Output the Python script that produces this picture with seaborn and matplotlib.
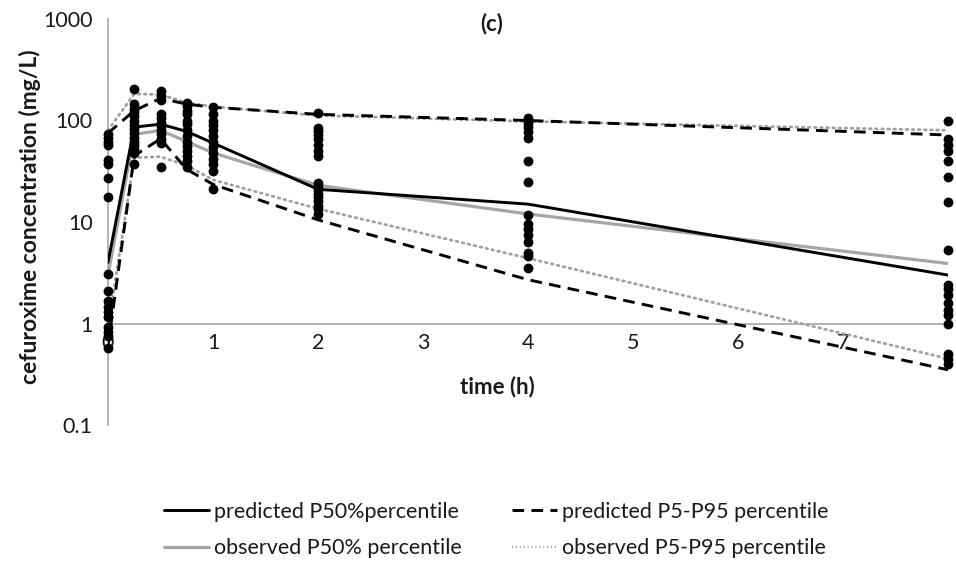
import numpy as np
import pandas as pd
import matplotlib
matplotlib.use("Agg")
import matplotlib.pyplot as plt
import seaborn as sns
from matplotlib.lines import Line2D

# ---------------- data ----------------
times = [0, 0.25, 0.5, 0.75, 1, 2, 4, 8]
pred_p50 = [4.0, 86, 92, 78, 60, 21, 15, 3.0]
obs_p50 = [3.0, 73, 80, 62, 48, 23, 12, 3.9]
pred_p95 = [75, 125, 165, 145, 135, 115, 100, 72]
pred_p5 = [0.6, 45, 66, 33, 23.5, 10.5, 2.7, 0.35]
obs_p95 = [80, 183, 180, 150, 137, 112, 98, 80]
obs_p5 = [0.9, 43, 44, 36, 26, 13.5, 4.4, 0.45]

obs_t0 = [73, 68, 62, 57, 41, 37, 27, 17.5, 3.1, 2.1, 1.65, 1.45, 1.3, 1.17, 0.92, 0.82, 0.76, 0.58]
obs_t025 = [205, 145, 130, 120, 110, 100, 90, 82, 75, 68, 62, 57, 52, 48, 37]
obs_t05 = [195, 175, 160, 115, 105, 95, 88, 80, 73, 66, 60, 35]
obs_t075 = [150, 140, 125, 116, 100, 92, 80, 70, 62, 56, 50, 45, 40, 35]
obs_t1 = [135, 115, 100, 90, 80, 70, 62, 55, 48, 42, 37, 32, 21]
obs_t2 = [118, 85, 78, 72, 65, 58, 50, 45, 24, 22, 20.5, 19, 17.5, 16, 14.5, 13.5, 12]
obs_t4 = [107, 95, 86, 77, 68, 40, 24.6, 11.6, 9.5, 8.5, 7.5, 6.3, 5.0, 4.6, 3.5]
obs_t8 = [100, 65, 57, 50, 40, 27.5, 15.7, 5.3, 2.4, 2.2, 1.9, 1.6, 1.35, 1.2, 1.0, 0.5, 0.45, 0.4]

xtick_labels = ["0", "1", "2", "3", "4", "5", "6", "7", ""]
ytick_vals = [0.1, 1, 10, 100, 1000]
ytick_labels = ["0.1", "1", "10", "100", "1000"]

legend_labels = ["predicted P50%percentile", "observed P50% percentile",
                 "predicted P5-P95 percentile", "observed P5-P95 percentile"]

# ---------------- build tables ----------------
obs_groups = {0: obs_t0, 0.25: obs_t025, 0.5: obs_t05, 0.75: obs_t075,
              1: obs_t1, 2: obs_t2, 4: obs_t4, 8: obs_t8}
pts = pd.DataFrame([(t, c) for t, vals in obs_groups.items() for c in vals],
                   columns=["time", "conc"])
lines = pd.DataFrame({"time": times, "pred_p50": pred_p50, "obs_p50": obs_p50,
                      "pred_p95": pred_p95, "pred_p5": pred_p5,
                      "obs_p95": obs_p95, "obs_p5": obs_p5})

# ---------------- style ----------------
sns.set_style("white")
plt.rcParams["font.family"] = ["Lato", "DejaVu Sans"]

fig = plt.figure(figsize=(9.56, 5.63), dpi=100)
ax = fig.add_axes([108 / 956, 1 - 425 / 563, 840 / 956, 406 / 563])

gray_axis = "#A6A6A6"
gray_line = "#A6A6A6"
dot_gray = "#A0A0A0"
txt = "#1a1a1a"

dotted = (0, (0.6, 1.6))
dashed = (0, (4, 2.5))

sns.lineplot(data=lines, x="time", y="obs_p95", ax=ax, color=dot_gray, lw=2.0,
             linestyle=dotted, dash_capstyle="round", zorder=2)
sns.lineplot(data=lines, x="time", y="obs_p5", ax=ax, color=dot_gray, lw=2.0,
             linestyle=dotted, dash_capstyle="round", zorder=2)
sns.lineplot(data=lines, x="time", y="pred_p95", ax=ax, color="black", lw=2.1,
             linestyle=dashed, zorder=2)
sns.lineplot(data=lines, x="time", y="pred_p5", ax=ax, color="black", lw=2.1,
             linestyle=dashed, zorder=2)
sns.lineplot(data=lines, x="time", y="obs_p50", ax=ax, color=gray_line, lw=2.3, zorder=3)
sns.lineplot(data=lines, x="time", y="pred_p50", ax=ax, color="black", lw=2.1, zorder=3)

sns.scatterplot(data=pts, x="time", y="conc", ax=ax, color="black", s=50,
                edgecolor="black", linewidth=0, zorder=5, clip_on=False)

ax.set_yscale("log")
ax.set_ylim(0.1, 1000)
ax.set_xlim(0, 8)
ax.set_yticks(ytick_vals)
ax.set_yticklabels(ytick_labels)
ax.yaxis.set_minor_locator(matplotlib.ticker.NullLocator())
ax.set_xticks(range(9))
ax.set_xticklabels(xtick_labels)

for s in ["top", "right"]:
    ax.spines[s].set_visible(False)
ax.spines["bottom"].set_position(("data", 1))
for s in ["left", "bottom"]:
    ax.spines[s].set_color(gray_axis)
    ax.spines[s].set_linewidth(1.2)
    ax.spines[s].set_zorder(1)

ax.tick_params(axis="both", which="major", direction="out", length=5,
               width=1.2, color=gray_axis, labelsize=15.5, labelcolor=txt)
ax.tick_params(axis="x", pad=2)
ax.tick_params(axis="y", pad=6)

ax.set_xlabel("time (h)", fontsize=16, fontweight="bold", color=txt)
ax.xaxis.set_label_coords((497 - 108) / 840, (425 - 376) / 406)
ax.xaxis.label.set_va("top")
ax.set_ylabel("cefuroxime concentration (mg/L)", fontsize=16.5, fontweight="bold",
              color=txt, ha="center", va="center")
ax.yaxis.set_label_coords((30 - 108) / 840, (425 - 217) / 406)

ax.text((492 - 108) / 840, (425 - 24) / 406, "(c)", transform=ax.transAxes,
        ha="center", va="center", fontsize=16, fontweight="bold", color=txt)

handles = [
    Line2D([], [], color="black", lw=2.1),
    Line2D([], [], color=gray_line, lw=2.3),
    Line2D([], [], color="black", lw=2.1, linestyle=dashed),
    Line2D([], [], color=dot_gray, lw=1.4, linestyle=(0, (0.6, 1.4))),
]
fig.legend(handles, legend_labels, loc="center", bbox_to_anchor=(0.519, 0.0586),
           ncol=2, frameon=False, fontsize=15.5, handlelength=2.1,
           handletextpad=0.25, columnspacing=2.3, labelspacing=0.75,
           labelcolor=txt)

fig.savefig("out.png", dpi=100)
